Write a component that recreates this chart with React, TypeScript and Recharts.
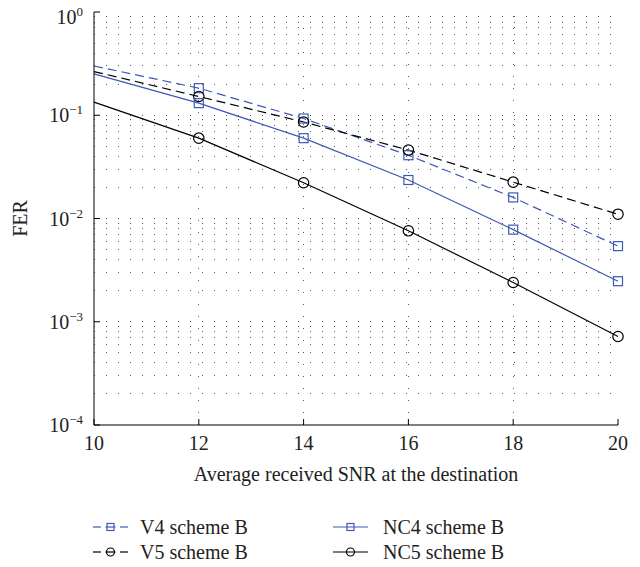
import { Line, LineChart, ReferenceLine, XAxis, YAxis } from 'recharts';

const snr = [10, 12, 14, 16, 18, 20];
const v4SchemeB = [0.3, 0.183, 0.093, 0.041, 0.016, 0.0054];
const v5SchemeB = [0.265, 0.152, 0.086, 0.046, 0.0225, 0.011];
const nc4SchemeB = [0.252, 0.131, 0.06, 0.0236, 0.0078, 0.00247];
const nc5SchemeB = [0.134, 0.06, 0.0222, 0.0076, 0.0024, 0.00072];

const xTicks = [10, 12, 14, 16, 18, 20];
const xGrid = [12, 14, 16, 18];
const yTicks = [1e-4, 1e-3, 1e-2, 1e-1, 1];
const yExponents = ['−4', '−3', '−2', '−1', '0'];
const decades = [1e-4, 1e-3, 1e-2, 1e-1];
const mantissas = [2, 3, 4, 5, 6, 7, 8, 9];

const yMinor = decades.flatMap((d) => mantissas.map((m) => m * d));
const yGrid = [...yMinor, 1e-3, 1e-2, 1e-1];

const data = snr.map((x, i) => ({
  snr: x,
  v4: v4SchemeB[i],
  v5: v5SchemeB[i],
  nc4: nc4SchemeB[i],
  nc5: nc5SchemeB[i]
}));

const BLUE = '#3c5ab4';
const FONT = "'Liberation Serif', 'DejaVu Serif', serif";
const FS = 20;

const series = [
  { key: 'v4', name: 'V4 scheme B', color: BLUE, dashed: true, marker: 'square' },
  { key: 'v5', name: 'V5 scheme B', color: '#000', dashed: true, marker: 'circle' },
  { key: 'nc4', name: 'NC4 scheme B', color: BLUE, dashed: false, marker: 'square' },
  { key: 'nc5', name: 'NC5 scheme B', color: '#000', dashed: false, marker: 'circle' }
];

function makeDot(color: string, marker: string) {
  return (props: any) => {
    const { cx, cy, payload, index } = props;
    // the curves start at 10 dB but no marker is drawn there
    if (payload.snr === snr[0] || cx == null || cy == null) {
      return <g key={`d-${index}`} />;
    }
    if (marker === 'square') {
      return (
        <rect
          key={`d-${index}`}
          x={cx - 4.5}
          y={cy - 4.5}
          width={9}
          height={9}
          fill='none'
          stroke={color}
          strokeWidth={1.2}
        />
      );
    }
    return (
      <circle
        key={`d-${index}`}
        cx={cx}
        cy={cy}
        r={5.2}
        fill='none'
        stroke={color}
        strokeWidth={1.2}
      />
    );
  };
}

function YTick(props: any) {
  const { x, y, payload } = props;
  const i = yTicks.findIndex((t) => Math.abs(t - payload.value) < t * 1e-6);
  return (
    <text
      x={x}
      y={y}
      textAnchor='end'
      fontFamily={FONT}
      fontSize={FS}
      fill='#222'
      dominantBaseline='central'
    >
      <tspan>10</tspan>
      <tspan dy={-6} fontSize={13}>
        {yExponents[i]}
      </tspan>
    </text>
  );
}

function XTitle(props: any) {
  const { viewBox } = props;
  return (
    <text
      x={viewBox.x + viewBox.width / 2}
      y={viewBox.y + 56}
      textAnchor='middle'
      fontFamily={FONT}
      fontSize={FS}
      fill='#222'
    >
      Average received SNR at the destination
    </text>
  );
}

function YTitle(props: any) {
  const { viewBox } = props;
  const cx = 12;
  const cy = viewBox.y + viewBox.height / 2;
  return (
    <text
      x={cx}
      y={cy}
      transform={`rotate(-90 ${cx} ${cy})`}
      textAnchor='middle'
      dominantBaseline='central'
      fontFamily={FONT}
      fontSize={FS}
      fill='#222'
    >
      FER
    </text>
  );
}

function LegendSymbol({ x, y, item }: any) {
  const w = 35;
  const mid = x + w / 2;
  return (
    <g stroke={item.color} strokeWidth={1.2} fill='none'>
      {item.dashed ? (
        <>
          <line x1={x} y1={y} x2={x + 8} y2={y} />
          <line x1={mid - 5} y1={y} x2={mid + 5} y2={y} />
          <line x1={x + w - 8} y1={y} x2={x + w} y2={y} />
        </>
      ) : (
        <line x1={x} y1={y} x2={x + w} y2={y} />
      )}
      {item.marker === 'square' ? (
        <rect x={mid - 3.5} y={y - 3.5} width={7} height={7} />
      ) : (
        <circle cx={mid} cy={y} r={4} />
      )}
    </g>
  );
}

function FerLegend() {
  const cols = [85, 325];
  const rows = [19, 44];
  const order = [
    [0, 0, 0],
    [2, 1, 0],
    [1, 0, 1],
    [3, 1, 1]
  ];
  return (
    <svg
      width={632}
      height={60}
      style={{ position: 'absolute', left: 0, top: 500 }}
    >
      {order.map(([s, c, r]) => (
        <g key={series[s].key}>
          <LegendSymbol x={cols[c]} y={rows[r]} item={series[s]} />
          <text
            x={cols[c] + 47 + (c === 1 ? 3 : 0)}
            y={rows[r]}
            dominantBaseline='central'
            fontFamily={FONT}
            fontSize={FS}
            fill='#222'
          >
            {series[s].name}
          </text>
        </g>
      ))}
    </svg>
  );
}

function FerChart() {
  return (
    <div style={{ position: 'relative', width: 632, height: 559 }}>
      <LineChart
        width={632}
        height={559}
        data={data}
        margin={{ top: 4, right: 22, bottom: 82, left: 0 }}
      >
        {yGrid.map((v) => (
          <ReferenceLine
            key={`h-${v}`}
            xAxisId='b'
            yAxisId='fer'
            y={v}
            stroke='#555'
            strokeDasharray='1 11'
            shapeRendering='crispEdges'
          />
        ))}
        {xGrid.map((v) => (
          <ReferenceLine
            key={`v-${v}`}
            xAxisId='b'
            yAxisId='fer'
            x={v}
            stroke='#555'
            strokeDasharray='1 11'
            shapeRendering='crispEdges'
          />
        ))}

        <XAxis
          xAxisId='b'
          dataKey='snr'
          type='number'
          domain={[10, 20]}
          ticks={xTicks}
          height={60}
          stroke='#000'
          tickSize={-6}
          tickMargin={17}
          tick={{ fontFamily: FONT, fontSize: FS, fill: '#222' }}
          label={<XTitle />}
        />
        <XAxis
          xAxisId='t'
          dataKey='snr'
          type='number'
          orientation='top'
          domain={[10, 20]}
          ticks={xTicks}
          height={0}
          mirror
          tick={false}
          tickSize={6}
          stroke='#000'
        />

        <YAxis
          yAxisId='fer'
          scale='log'
          domain={[1e-4, 1]}
          ticks={yTicks}
          allowDataOverflow
          width={86}
          stroke='#000'
          tickSize={-6}
          tickMargin={17}
          tick={<YTick />}
          label={<YTitle />}
        />
        <YAxis
          yAxisId='minorL'
          scale='log'
          domain={[1e-4, 1]}
          ticks={yMinor}
          allowDataOverflow
          width={0}
          mirror
          axisLine={false}
          tick={false}
          tickSize={3}
          stroke='#000'
        />
        <YAxis
          yAxisId='r'
          orientation='right'
          scale='log'
          domain={[1e-4, 1]}
          ticks={yTicks}
          allowDataOverflow
          width={0}
          mirror
          tick={false}
          tickSize={6}
          stroke='#000'
        />
        <YAxis
          yAxisId='minorR'
          orientation='right'
          scale='log'
          domain={[1e-4, 1]}
          ticks={yMinor}
          allowDataOverflow
          width={0}
          mirror
          axisLine={false}
          tick={false}
          tickSize={3}
          stroke='#000'
        />

        {series.map((s) => (
          <Line
            key={s.key}
            xAxisId='b'
            yAxisId='fer'
            type='linear'
            dataKey={s.key}
            name={s.name}
            stroke={s.color}
            strokeWidth={1.2}
            strokeDasharray={s.dashed ? '9 5' : undefined}
            dot={makeDot(s.color, s.marker)}
            activeDot={false}
            isAnimationActive={false}
          />
        ))}
      </LineChart>
      <FerLegend />
    </div>
  );
}

export default function App() {
  return <FerChart />;
}
